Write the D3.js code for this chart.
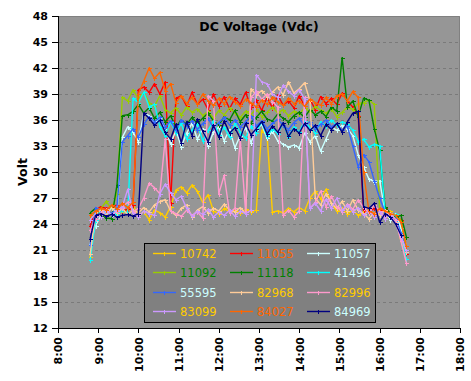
<!DOCTYPE html>
<html><head><meta charset="utf-8">
<script src="https://cdn.jsdelivr.net/npm/d3@7"></script>
<style>
html,body{margin:0;padding:0;background:#fff;}
svg{display:block;}
text{font-family:"DejaVu Sans",Verdana,sans-serif;}
</style></head><body>
<svg id="chart" width="471" height="381"></svg>
<script>
// ---- data ----
const times = ["8:48","8:56","9:04","9:12","9:20","9:28","9:36","9:44","9:52","10:00",
  "10:08","10:16","10:24","10:32","10:40","10:48","10:56","11:04","11:12","11:20",
  "11:28","11:36","11:44","11:52","12:00","12:08","12:16","12:24","12:32","12:40",
  "12:48","12:56","13:04","13:12","13:20","13:28","13:36","13:44","13:52","14:00",
  "14:08","14:16","14:24","14:32","14:40","14:48","14:56","15:04","15:12","15:20",
  "15:28","15:36","15:44","15:52","16:00","16:08","16:16","16:24","16:32","16:40"];

const seriesNames = ["10742","11055","11057","11092","11118","41496","55595","82968","82996","83099","84027","84969"];
const lineColors = ["#FFCC00","#FF0000","#CCFFFF","#99CC00","#008000","#00FFFF","#3366FF","#FFCC99","#FF99CC","#CC99FF","#FF6600","#000080"];
const legendTextColors = ["#FFCC00","#FF6600","#CCFFFF","#008000","#008000","#CCFFFF","#CCFFFF","#FFCC00","#FFCC00","#FFCC00","#FF6600","#CCFFFF"];

const v10742 = [20.2,25.0,24.8,25.5,25.2,26.0,25.4,25.7,26.2,25.0,
  25.4,24.5,25.6,25.3,24.8,26.0,27.9,28.3,27.6,28.5,
  27.8,26.5,27.4,25.5,25.2,25.8,25.4,25.6,25.3,25.7,
  25.4,25.6,34.8,34.2,25.4,25.5,25.3,25.8,25.4,25.9,
  25.5,27.0,27.8,26.9,28.0,26.4,25.5,25.8,25.2,25.6,
  25.0,25.4,25.6,25.1,25.3,24.8,25.5,24.6,22.0,20.0];
const v11055 = [23.8,25.6,26.0,25.8,25.9,26.2,25.5,25.7,26.2,39.5,
  39.8,39.2,40.2,39.0,40.4,26.4,38.5,38.8,37.6,39.2,
  37.8,38.4,37.2,39.0,37.6,38.7,37.3,38.5,37.8,39.2,
  37.5,38.3,37.1,38.6,37.4,38.9,37.7,38.2,37.4,38.8,
  37.6,38.4,37.2,38.7,37.9,38.5,37.8,39.1,38.2,37.5,
  36.5,25.6,25.4,25.8,25.6,25.9,25.2,24.8,24.5,20.5];
const v11057 = [21.7,23.8,25.0,25.5,24.9,25.3,34.0,35.2,34.6,33.5,
  36.8,36.5,35.6,36.2,35.0,33.2,34.8,32.9,34.5,35.6,
  33.8,35.0,33.0,34.6,35.2,33.6,34.9,32.8,34.2,35.1,
  33.4,34.8,35.5,33.9,34.7,33.6,33.2,32.9,33.1,32.8,
  34.5,33.5,34.2,32.4,33.8,35.2,34.8,35.4,35.0,34.2,
  32.0,30.6,29.2,28.9,29.0,25.5,24.5,25.2,23.5,21.5];
const v11092 = [24.5,25.4,25.8,26.6,25.7,27.5,38.6,38.2,39.5,38.4,
  39.2,38.0,37.6,38.8,37.2,36.8,37.4,36.6,37.5,36.9,
  37.3,36.5,37.0,36.2,37.1,36.6,37.4,36.8,36.3,37.0,
  36.6,37.3,36.4,36.9,37.5,36.8,37.2,36.5,37.0,36.7,
  37.4,36.9,37.6,37.1,36.8,37.3,36.4,36.9,37.5,37.2,
  37.9,38.0,38.3,37.8,25.8,25.6,25.3,25.0,24.4,21.0];
const v11118 = [25.3,25.8,25.0,24.7,24.6,28.5,36.5,36.6,37.0,37.8,
  36.8,37.4,36.2,36.9,35.8,36.5,35.2,36.0,35.5,36.3,
  35.6,36.2,36.8,35.9,35.4,36.4,36.0,37.1,35.8,36.6,
  35.7,36.3,37.0,36.1,35.9,36.7,36.2,35.8,36.5,36.9,
  36.3,37.2,36.6,37.0,36.4,37.5,37.0,43.2,37.5,38.2,
  36.4,38.5,38.3,35.0,32.5,26.0,25.2,24.8,25.0,22.5];
const v41496 = [19.8,24.5,25.5,25.3,25.8,25.0,25.6,25.2,38.5,38.0,
  39.2,37.5,37.8,35.2,34.2,35.8,34.5,35.6,33.8,34.9,
  35.5,33.6,34.8,35.9,34.3,35.2,34.0,35.6,34.6,33.9,
  35.3,34.5,35.8,34.1,35.0,34.4,35.7,34.0,35.2,34.6,
  35.9,35.1,34.5,35.8,35.3,36.0,35.4,35.8,35.5,34.8,
  33.5,33.8,32.9,33.2,33.0,25.5,24.8,25.1,22.5,20.0];
const v55595 = [21.6,25.9,25.4,25.7,25.2,25.9,33.5,34.2,35.0,34.0,
  35.5,36.4,35.8,36.3,35.2,35.9,34.8,36.0,35.3,35.9,
  34.9,35.6,36.2,35.1,35.7,36.3,35.4,36.0,35.2,35.8,
  36.5,35.3,35.9,35.0,35.6,36.1,35.4,34.9,35.7,36.2,
  35.3,35.8,35.0,35.5,36.0,35.2,35.6,34.8,35.3,33.0,
  30.6,32.0,31.2,29.0,27.0,25.4,25.0,24.6,23.0,20.8];
const v82968 = [20.5,25.2,25.6,25.0,25.9,25.3,25.8,25.1,25.6,25.3,
  25.9,25.4,26.2,26.6,26.8,25.5,25.0,25.8,26.2,24.8,
  25.6,26.0,25.3,25.8,25.5,26.3,25.6,25.4,25.9,25.2,
  39.6,38.9,39.4,38.7,39.2,39.8,38.9,40.4,39.1,39.6,
  40.3,38.2,27.0,26.2,27.5,26.4,25.8,26.6,25.5,26.8,
  25.6,25.2,24.6,25.3,25.0,25.6,24.8,24.2,22.5,20.8];
const v82996 = [23.3,24.6,25.3,25.7,25.0,25.5,25.9,26.5,25.4,25.8,
  27.0,28.7,28.2,27.5,33.8,25.5,25.2,24.9,25.6,25.0,
  25.4,24.7,38.8,38.2,27.5,29.6,25.3,25.8,33.8,25.4,
  38.6,39.3,38.4,39.0,38.1,37.5,25.0,25.6,24.8,25.5,
  38.6,25.8,26.5,27.8,26.0,27.2,26.0,25.4,26.3,25.7,
  26.8,25.9,25.3,26.2,25.5,24.9,25.3,24.5,22.0,19.5];
const v83099 = [24.5,25.2,24.8,25.5,25.0,25.6,26.0,28.0,25.3,24.8,
  25.5,25.2,25.0,27.5,28.6,27.6,26.8,27.2,25.8,24.9,
  25.5,25.1,25.7,24.8,25.4,25.0,25.6,24.9,25.5,25.2,
  25.6,41.2,40.4,40.2,39.0,38.6,40.0,39.3,38.8,39.5,
  38.4,25.8,26.4,25.5,26.9,25.8,27.0,25.6,26.2,25.4,
  25.9,25.0,25.6,24.8,25.4,24.6,25.2,24.0,22.5,21.0];
const v84027 = [25.0,25.5,25.8,25.6,26.2,25.7,26.4,25.9,26.5,39.0,
  40.5,42.0,40.8,41.5,39.4,40.2,38.0,38.8,37.9,38.6,
  37.8,39.0,38.2,37.7,38.5,37.9,38.7,38.1,37.6,38.4,
  38.0,37.5,38.3,37.8,38.6,38.1,37.7,38.5,37.9,38.2,
  37.6,38.4,38.0,37.7,38.6,37.9,38.8,39.0,38.2,39.3,
  38.6,30.0,25.5,25.2,25.8,25.5,25.2,25.0,24.2,21.5];
const v84969 = [22.3,25.0,25.2,24.9,25.1,24.8,25.0,25.1,24.9,25.2,
  36.8,36.2,35.4,36.0,34.6,33.8,35.5,33.4,35.8,34.2,
  36.1,34.7,33.5,35.4,34.0,35.9,34.5,35.1,33.9,35.6,
  34.3,35.0,35.8,34.4,35.3,34.6,35.7,34.1,35.0,34.5,
  35.6,34.8,35.4,34.2,35.5,34.9,35.6,34.6,35.8,36.8,
  37.0,26.0,25.8,26.4,24.2,25.2,24.8,24.0,22.7,null];

const seriesValues = [v10742,v11055,v11057,v11092,v11118,v41496,v55595,v82968,v82996,v83099,v84027,v84969];

const yTicks = [12,15,18,21,24,27,30,33,36,39,42,45,48];
const xTickLabels = ["8:00","9:00","10:00","11:00","12:00","13:00","14:00","15:00","16:00","17:00","18:00"];
const chartTitle = "DC Voltage (Vdc)";
const yAxisTitle = "Volt";

// ---- drawing ----
const toMin = s => { const [h,m] = s.split(":").map(Number); return h*60+m; };
const svg = d3.select("#chart");
const L = 58, R = 460, T = 16, B = 328;

const x = d3.scaleLinear().domain([toMin(xTickLabels[0]), toMin(xTickLabels[xTickLabels.length-1])]).range([L, R]);
const y = d3.scaleLinear().domain([yTicks[0], yTicks[yTicks.length-1]]).range([B, T]);

svg.append("rect").attr("x",L).attr("y",T).attr("width",R-L).attr("height",B-T).attr("fill","#969696");

// gridlines
svg.append("g").selectAll("line").data(yTicks.slice(1,-1)).join("line")
  .attr("x1",L+1).attr("x2",R).attr("y1",d=>Math.round(y(d))+0.5).attr("y2",d=>Math.round(y(d))+0.5)
  .attr("stroke","#7a7a7a").attr("stroke-width",1).attr("stroke-dasharray","3,3");

// right/top border
svg.append("path").attr("d",`M${L},${T+0.5}H${R-0.5}V${B}`).attr("fill","none").attr("stroke","#808080");

// title
svg.append("text").attr("x",259).attr("y",31).attr("text-anchor","middle")
  .attr("font-size",12.5).attr("font-weight","bold").attr("fill","#000").text(chartTitle);

// series
const line = d3.line().defined(d=>d.v!=null).x(d=>x(d.t)).y(d=>y(d.v));
seriesValues.forEach((vals,k)=>{
  const pts = vals.map((v,i)=>({t:toMin(times[i]), v}));
  const g = svg.append("g");
  g.append("path").attr("d",line(pts)).attr("fill","none")
    .attr("stroke",lineColors[k]).attr("stroke-width",1.4).attr("stroke-linejoin","round");
  g.append("path").attr("d", pts.filter(p=>p.v!=null).map(p=>{
      const px=Math.round(x(p.t))+0.5, py=Math.round(y(p.v))+0.5;
      return `M${px-2},${py}h4M${px},${py-2}v4`;}).join(""))
    .attr("fill","none").attr("stroke",lineColors[k]).attr("stroke-width",1).attr("shape-rendering","crispEdges");
});

// axes
const yAxis = svg.append("g").attr("transform",`translate(${L},0)`)
  .call(d3.axisLeft(y).tickValues(yTicks).tickSize(6).tickPadding(4).tickFormat(d3.format("d")));
const xAxis = svg.append("g").attr("transform",`translate(0,${B})`)
  .call(d3.axisBottom(x).tickValues(xTickLabels.map(toMin)).tickSize(5).tickFormat((d,i)=>xTickLabels[i]));
[yAxis,xAxis].forEach(a=>{
  a.attr("font-family",'"DejaVu Sans",Verdana,sans-serif').attr("font-size",11).attr("font-weight","bold");
  a.selectAll("path,line").attr("stroke","#000").attr("shape-rendering","crispEdges");
  a.selectAll("text").attr("fill","#000");
});
xAxis.selectAll("text").attr("transform","rotate(-90)").attr("text-anchor","end")
  .attr("x",-9).attr("y",0).attr("dy","0.36em");

svg.append("text").attr("transform","translate(27,172) rotate(-90)").attr("text-anchor","middle")
  .attr("font-size",12.5).attr("font-weight","bold").attr("fill","#000").text(yAxisTitle);

// legend
const lg = svg.append("g");
lg.append("rect").attr("x",144.5).attr("y",243.5).attr("width",231).attr("height",79)
  .attr("fill","#808080").attr("stroke","#000").attr("stroke-width",1);
const colX = [153, 230, 307];
const rowY = [253, 272, 291.5, 311];
seriesNames.forEach((name,k)=>{
  const cx = colX[k%3], cy = Math.round(rowY[Math.floor(k/3)])+0.5;
  lg.append("line").attr("x1",cx).attr("x2",cx+23).attr("y1",cy).attr("y2",cy)
    .attr("stroke",lineColors[k]).attr("stroke-width",1.4);
  lg.append("path").attr("d",`M${cx+11.5},${cy-2}v4`).attr("stroke",lineColors[k]).attr("stroke-width",1).attr("shape-rendering","crispEdges");
  lg.append("text").attr("x",cx+27).attr("y",cy+4.5).attr("font-size",11.5)
    .attr("fill",legendTextColors[k]).text(name);
});
</script>
</body></html>
